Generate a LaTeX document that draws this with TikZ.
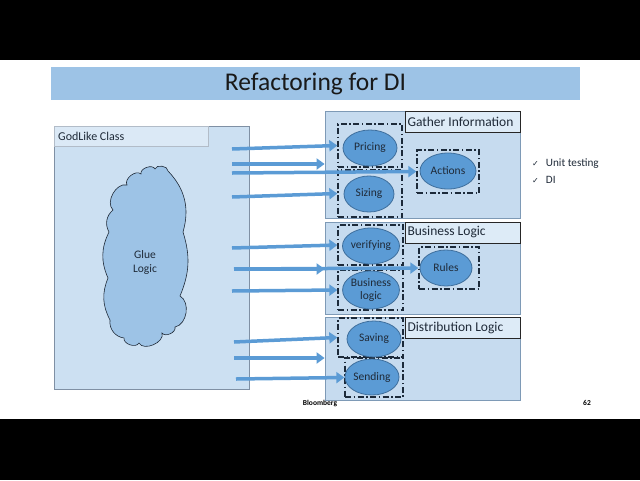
\documentclass[tikz,border=0pt]{standalone}
\usepackage{fontspec}
\setmainfont{Carlito}
\newfontfamily\symfont{DejaVu Sans}
\usetikzlibrary{arrows.meta}
\usetikzlibrary{shapes.geometric}
\definecolor{titlebar}{HTML}{9DC3E6}
\definecolor{classfill}{HTML}{CCE0F2}
\definecolor{classline}{HTML}{7F90A4}
\definecolor{panelfill}{HTML}{C6DBEF}
\definecolor{panelline}{HTML}{7E9AB6}
\definecolor{hdrfill}{HTML}{DDEBF7}
\definecolor{boxline}{HTML}{1C2A3A}
\definecolor{ellfill}{HTML}{5B9BD5}
\definecolor{ellline}{HTML}{3E6E9C}
\definecolor{cloudfill}{HTML}{9DC3E6}
\definecolor{feedblue}{HTML}{5B9BD5}
\definecolor{textdark}{HTML}{1F2A38}

\begin{document}
\begin{tikzpicture}[x=1pt,y=-1pt,>={Triangle[length=8pt,width=11pt]},
  panel/.style={draw=panelline,fill=panelfill,minimum width=195pt,inner sep=0pt,line width=0.8pt},
  hdr/.style={draw=black!85,fill=hdrfill,text width=110pt,align=flush left,inner xsep=2.5pt,inner ysep=0pt,
    minimum height=21pt,font=\fontsize{13.5}{15}\selectfont,text=textdark,line width=0.8pt},
  dashbox/.style={draw=boxline,line width=1.3pt,dash pattern=on 6pt off 2.5pt on 1.5pt off 2.5pt,inner sep=0pt},
  job/.style={ellipse,draw=ellline,fill=ellfill,inner sep=0pt,align=center,
    font=\fontsize{11.5}{12.5}\selectfont,text=textdark,line width=0.8pt},
  feed/.style={->,draw=feedblue,line width=3.5pt}]

\useasboundingbox (0,0) rectangle (640,480);
\fill[black] (0,0) rectangle (640,60);
\fill[black] (0,419) rectangle (640,480);

% title bar
\node[fill=titlebar,minimum width=529pt,minimum height=33pt,inner sep=0pt,
  font=\fontsize{25.5}{28}\selectfont,text=black!90](title) at (315.5,83.5) {Refactoring for DI};

% the god class
\node[draw=classline,fill=classfill,minimum width=195pt,minimum height=263pt,inner sep=0pt,line width=0.8pt](godlike) at (151.5,257.5) {};
\node[draw=classline!60,fill=classfill!70!white,minimum width=154pt,minimum height=20pt,inner sep=0pt](godhdr) at (131,136) {};
\node[anchor=west,inner sep=0pt,font=\fontsize{12}{14}\selectfont,text=textdark](godname) at (58,136) {GodLike Class};

% cloud outline, puff by puff
\draw[draw=textdark,fill=cloudfill,line width=0.6pt]
  (113,210) to[bend left=75] (127,185) to[bend left=80] (141,174) to[bend left=85] (155,169)
  to[bend left=85] (168,171) to[bend left=30] (183,232) to[bend left=20] (180,296)
  to[bend left=70] (175,327) to[bend left=80] (162,333) to[bend left=85] (139,343)
  to[bend left=80] (124,338) to[bend left=45] (110,320) to[bend left=25] (108,278)
  to[bend left=25] (109,232) to[bend left=40] cycle;
\node[align=center,inner sep=0pt,font=\fontsize{11.5}{14}\selectfont,text=textdark](glue) at (145,262) {Glue\\Logic};

% panels on the right
\node[panel,minimum height=107pt](gather) at (422.5,164.5) {};
\node[hdr](gatherhdr) at (462.5,121.5) {Gather Information};
\node[panel,minimum height=92pt](business) at (422.5,268) {};
\node[hdr](businesshdr) at (462.5,232.5) {Business Logic};
\node[panel,minimum height=83pt](distrib) at (422.5,358.5) {};
\node[hdr](distribhdr) at (462.5,327.5) {Distribution Logic};

\node[dashbox,minimum width=64pt,minimum height=43pt](pricingbox) at (370,145.5) {};
\node[dashbox,minimum width=64pt,minimum height=47pt](sizingbox) at (370,193.5) {};
\node[dashbox,minimum width=62pt,minimum height=43pt](actionsbox) at (448,171.5) {};
\node[dashbox,minimum width=65pt,minimum height=40pt](verifbox) at (370.5,245) {};
\node[dashbox,minimum width=65pt,minimum height=40pt](blogicbox) at (370.5,290) {};
\node[dashbox,minimum width=60pt,minimum height=42pt](rulesbox) at (449,268) {};
\node[dashbox,minimum width=65pt,minimum height=39pt](savingbox) at (370.5,337.5) {};
\node[dashbox,minimum width=58pt,minimum height=39pt](sendingbox) at (374,377.5) {};

\node[job,minimum width=54pt,minimum height=36pt](pricing) at (370,148) {Pricing};
\node[job,minimum width=50pt,minimum height=36pt](sizing) at (369,194) {Sizing};
\node[job,minimum width=56pt,minimum height=36pt](actions) at (448,171) {Actions};
\node[job,minimum width=52pt,minimum height=36pt](verifying) at (371,246) {verifying};
\node[job,minimum width=50pt,minimum height=38pt](blogic) at (371,290) {Business\\logic};
\node[job,minimum width=52pt,minimum height=36pt](rules) at (446,268) {Rules};
\node[job,minimum width=54pt,minimum height=36pt](saving) at (374,339) {Saving};
\node[job,minimum width=54pt,minimum height=36pt](sending) at (372,377) {Sending};

% where the feeds leave the god class
\coordinate (f1) at (232,149);
\coordinate (f2) at (232,164);
\coordinate (f3) at (232,173);
\coordinate (f4) at (232,197);
\coordinate (f5) at (232,248);
\coordinate (f6) at (234,269);
\coordinate (f7) at (232,291);
\coordinate (f8) at (234,342);
\coordinate (f9) at (234,358);
\coordinate (f10) at (236,379);

\draw[feed] (f1) -- (pricingbox.west);
\draw[feed] (f2) -- (f2 -| gather.west);
\draw[feed] (f3) -- (actionsbox.west);
\draw[feed] (f4) -- (sizingbox.west);
\draw[feed] (f5) -- (verifbox.west);
\draw[feed] (f6) -- (f6 -| business.west);
\draw[feed] (f6) -- (rulesbox.west);
\draw[feed] (f7) -- (blogicbox.west);
\draw[feed] (f8) -- (savingbox.west);
\draw[feed] (f9) -- (f9 -| distrib.west);
\draw[feed] (f10) -- (sendingbox.west);

% checklist
\node[anchor=west,inner sep=0pt,font=\fontsize{11.2}{13}\selectfont,text=textdark](unit) at (532,164) {{\symfont\fontsize{8}{9}\selectfont ✓}\hspace{7pt}Unit testing};
\node[anchor=west,inner sep=0pt,font=\fontsize{11.2}{13}\selectfont,text=textdark](di) at (532,180) {{\symfont\fontsize{8}{9}\selectfont ✓}\hspace{7pt}DI};

% footer
\node[inner sep=0pt,font=\fontsize{7.5}{9}\selectfont\bfseries](brand) at (320,403) {Bloomberg};
\node[inner sep=0pt,font=\fontsize{7.5}{9}\selectfont\bfseries](page) at (587,403) {62};
\end{tikzpicture}
\end{document}
